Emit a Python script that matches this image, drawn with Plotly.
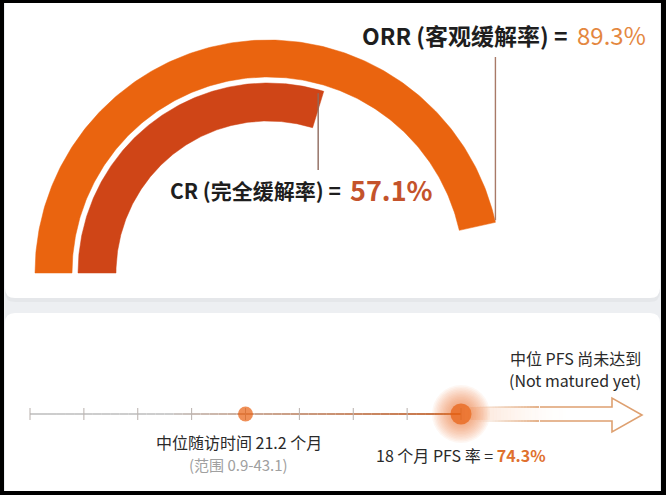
import numpy as np
import plotly.graph_objects as go

# ---------------- data ----------------
response_names = ["ORR (客观缓解率)", "CR (完全缓解率)"]
response_rates = [89.3, 57.1]                      # percent
timeline_ticks = [0, 1, 2, 3, 4, 5, 6, 7, 8]       # schematic time slots
event_names = ["中位随访时间 21.2 个月", "18 个月 PFS 率"]
event_slots = [4, 8]
followup_range_label = "(范围 0.9-43.1)"
pfs18_rate = 74.3
median_pfs_label = ["中位 PFS 尚未达到", "(Not matured yet)"]

# ---------------- styling / geometry ----------------
W, H = 666, 495
FONT = "Noto Sans CJK SC"
CX, CY = 268, 273          # gauge centre (px)
SPAN = 187.5               # degrees swept by 100 %
rings = [dict(r_in=196, r_out=233, color="#EA640F"),
         dict(r_in=152, r_out=190, color="#CF4517")]
TL_Y = 414
SLOT0_PX, SLOT_W = 30, 53.875
x2_lo = -SLOT0_PX / SLOT_W
x2_hi = x2_lo + W / SLOT_W

fig = go.Figure()
shapes = []

# background / cards
shapes.append(dict(type="rect", xref="x", yref="y", x0=0, x1=W, y0=0, y1=H,
                   fillcolor="#EDEFF2", line_width=0, layer="below"))


def rrect(x0, y0, x1, y1, r):
    return (f"M {x0+r},{y0} L {x1-r},{y0} Q {x1},{y0} {x1},{y0+r} L {x1},{y1-r} "
            f"Q {x1},{y1} {x1-r},{y1} L {x0+r},{y1} Q {x0},{y1} {x0},{y1-r} "
            f"L {x0},{y0+r} Q {x0},{y0} {x0+r},{y0} Z")


shapes.append(dict(type="path", path=rrect(5, -10, 660, 302, 10), xref="x", yref="y",
                   fillcolor="rgba(0,0,0,0.03)", line_width=0, layer="below"))
shapes.append(dict(type="path", path=rrect(5, -10, 660, 298, 10), xref="x", yref="y",
                   fillcolor="white", line_width=0, layer="below"))
shapes.append(dict(type="path", path=rrect(5, 313, 660, 505, 10), xref="x", yref="y",
                   fillcolor="white", line_width=0, layer="below"))

# ---------------- gauge rings ----------------
ends = []
for name, rate, ring in zip(response_names, response_rates, rings):
    t1 = 180 - rate / 100 * SPAN
    th = np.radians(np.linspace(180, t1, 240))
    xo = CX + ring["r_out"] * np.cos(th)
    yo = CY - ring["r_out"] * np.sin(th)
    xi = CX + ring["r_in"] * np.cos(th[::-1])
    yi = CY - ring["r_in"] * np.sin(th[::-1])
    fig.add_trace(go.Scatter(x=np.r_[xo, xi, xo[0]], y=np.r_[yo, yi, yo[0]],
                             mode="lines", fill="toself", fillcolor=ring["color"],
                             line=dict(width=0.5, color=ring["color"]), hoverinfo="skip"))
    ends.append((np.radians(t1), ring))

# leader lines
t_orr, r_orr = ends[0]
x_orr = CX + r_orr["r_out"] * np.cos(t_orr)
fig.add_trace(go.Scatter(x=[x_orr, x_orr], y=[57, CY - r_orr["r_out"] * np.sin(t_orr) - 2],
                         mode="lines", line=dict(color="#A87A68", width=1.4), hoverinfo="skip"))
t_cr, r_cr = ends[1]
rm = (r_cr["r_in"] + r_cr["r_out"]) / 2
x_cr = CX + rm * np.cos(t_cr)
fig.add_trace(go.Scatter(x=[x_cr, x_cr], y=[CY - r_cr["r_out"] * np.sin(t_cr) + 2, 170],
                         mode="lines", line=dict(color="#8E6A5E", width=1.4), hoverinfo="skip"))

annotations = []


def txt(x, y, text, size, color, xanchor="left", bold=False):
    annotations.append(dict(x=x, y=y, xref="x", yref="y", xanchor=xanchor, yanchor="middle",
                            text=f"<b>{text}</b>" if bold else text, showarrow=False,
                            font=dict(family=FONT, size=size, color=color)))


txt(569, 35, f"{response_names[0]} =", 23, "#1E1E1E", "right", True)
txt(575, 34, f"{response_rates[0]:.1f}%", 24, "#E4873F", "left", False)
txt(343, 190, f"{response_names[1]} =", 21, "#1E1E1E", "right", True)
txt(348, 189, f"{response_rates[1]:.1f}%", 27, "#C4532B", "left", True)

# ---------------- timeline ----------------
def lerp(c0, c1, f):
    return tuple(int(round(a + (b - a) * f)) for a, b in zip(c0, c1))


grey = (205, 205, 205)
brown = (200, 110, 60)
n = 48
s0, s1 = timeline_ticks[0], timeline_ticks[-1]
for i in range(n):
    a = s0 + (s1 - s0) * i / n
    b = s0 + (s1 - s0) * (i + 1) / n
    f = max(0.0, (a - 2.5) / (s1 - 2.5))
    c = lerp(grey, brown, min(1.0, f ** 0.8))
    fig.add_trace(go.Scatter(x=[a, b], y=[TL_Y, TL_Y], xaxis="x2", yaxis="y", mode="lines",
                             line=dict(color=f"rgb{c}", width=2), hoverinfo="skip"))

# ticks
tx, ty = [], []
for t in timeline_ticks:
    tx += [t, t, None]
    ty += [TL_Y - 6, TL_Y + 6, None]
fig.add_trace(go.Scatter(x=tx, y=ty, xaxis="x2", yaxis="y", mode="lines",
                         line=dict(color="#B8B0AC", width=1), hoverinfo="skip"))


def spx(s):
    return SLOT0_PX + s * SLOT_W


last = spx(timeline_ticks[-1])
# glow fill in arrow shaft
for k in range(30):
    xa = last + 4 + k * 3.5
    alpha = 0.22 * (1 - k / 30) ** 1.6
    shapes.append(dict(type="rect", xref="x", yref="y", x0=xa, x1=xa + 3.6, y0=TL_Y - 7, y1=TL_Y + 6,
                       fillcolor=f"rgba(240,130,60,{alpha:.3f})", line_width=0, layer="above"))
ac = "rgba(222,160,112,{a})"
head_x, tip_x = 612, 642
shapes.append(dict(type="path", xref="x", yref="y",
                   path=f"M 540,{TL_Y-7} L {head_x},{TL_Y-7} L {head_x},{TL_Y-16} L {tip_x},{TL_Y+1} "
                        f"L {head_x},{TL_Y+18} L {head_x},{TL_Y+7} L 540,{TL_Y+7}",
                   line=dict(color=ac.format(a=1), width=1.6), fillcolor="rgba(0,0,0,0)"))
for k in range(20):
    xa = last + 16 + k * 3.1
    alpha = (k + 1) / 20
    for yy in (TL_Y - 7, TL_Y + 7):
        shapes.append(dict(type="line", xref="x", yref="y", x0=xa, x1=xa + 3.2, y0=yy, y1=yy,
                           line=dict(color=ac.format(a=f"{alpha:.2f}"), width=1.6)))

# soft glow around the 18-month marker
ev_x = event_slots
sizes = list(range(58, 20, -3))
fig.add_trace(go.Scatter(x=[ev_x[1]] * len(sizes), y=[TL_Y] * len(sizes), xaxis="x2", yaxis="y",
                         mode="markers",
                         marker=dict(size=sizes, color="rgba(245,125,50,0.085)", line_width=0),
                         hoverinfo="skip"))
fig.add_trace(go.Scatter(x=ev_x, y=[TL_Y, TL_Y], xaxis="x2", yaxis="y", mode="markers",
                         marker=dict(size=[15, 21], color="#E8600F", line_width=0),
                         hoverinfo="skip"))

# timeline texts
txt(spx(ev_x[0]) - 7, 442, event_names[0], 16, "#2A2A2A", "center")
txt(spx(ev_x[0]) - 7, 464, followup_range_label, 15, "#A0A0A0", "center")
annotations.append(dict(x=spx(ev_x[1]), y=455, xref="x", yref="y", xanchor="center", yanchor="middle",
                        showarrow=False,
                        text=f"{event_names[1]} = <b><span style='color:#E0702E'>{pfs18_rate:.1f}%</span></b>",
                        font=dict(family=FONT, size=16, color="#2A2A2A")))
txt(643, 358, median_pfs_label[0], 16, "#2A2A2A", "right")
txt(643, 380, median_pfs_label[1], 16, "#2A2A2A", "right")

# black photo frame
for x0, x1, y0, y1 in [(0, 4, 0, H), (661, W, 0, H), (0, W, 0, 3), (0, W, 491, H)]:
    shapes.append(dict(type="rect", xref="x", yref="y", x0=x0, x1=x1, y0=y0, y1=y1,
                       fillcolor="black", line_width=0, layer="above"))

fig.update_layout(
    width=W, height=H, margin=dict(l=0, r=0, t=0, b=0),
    paper_bgcolor="black", plot_bgcolor="rgba(0,0,0,0)", showlegend=False,
    xaxis=dict(range=[0, W], visible=False, fixedrange=True),
    xaxis2=dict(range=[x2_lo, x2_hi], overlaying="x", visible=False, fixedrange=True),
    yaxis=dict(range=[H, 0], visible=False, fixedrange=True),
    shapes=shapes, annotations=annotations,
)

fig.write_html("out.html")
